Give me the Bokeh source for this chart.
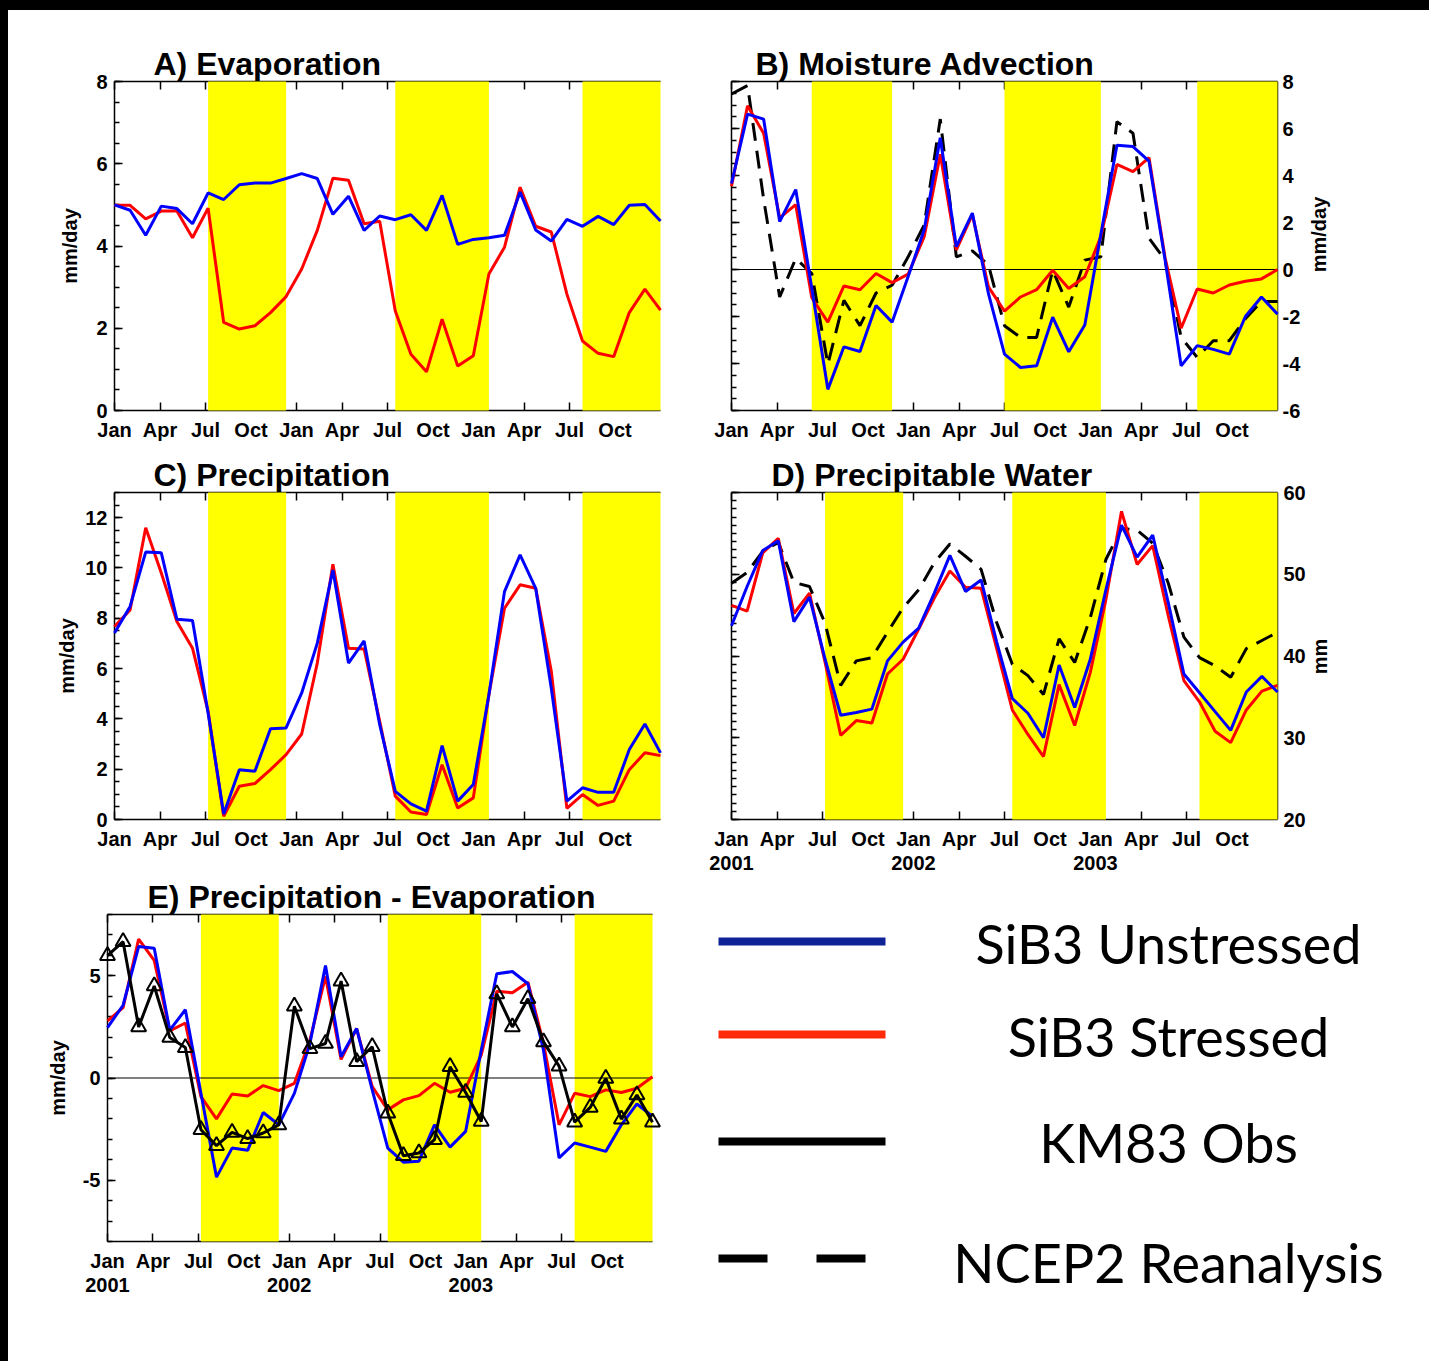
import math
from bokeh.plotting import figure
from bokeh.layouts import row, column
from bokeh.models import (Range1d, LinearAxis, FixedTicker, SingleIntervalTicker,
                          CustomJSTickFormatter, Spacer)
from bokeh.core.properties import value
from bokeh.embed import file_html
from bokeh.resources import INLINE

# ---------------- data ----------------
months = list(range(36))        # Jan 2001 .. Dec 2003
months_adv = list(range(35))    # panel B samples

evap_unstressed = [5.0, 4.87, 4.26, 4.97, 4.91, 4.54, 5.29, 5.13, 5.49, 5.53, 5.53, 5.64,
                   5.76, 5.64, 4.77, 5.21, 4.38, 4.73, 4.64, 4.76, 4.38, 5.23, 4.04, 4.16,
                   4.2, 4.26, 5.31, 4.39, 4.12, 4.65, 4.48, 4.72, 4.52, 4.99, 5.01, 4.61]
evap_stressed = [4.99, 4.99, 4.66, 4.85, 4.85, 4.2, 4.92, 2.14, 1.98, 2.06, 2.38, 2.77,
                 3.44, 4.38, 5.65, 5.6, 4.54, 4.6, 2.42, 1.37, 0.94, 2.22, 1.08, 1.33,
                 3.32, 3.97, 5.43, 4.48, 4.34, 2.83, 1.69, 1.39, 1.31, 2.38, 2.95, 2.44]

adv_unstressed = [3.66, 6.61, 6.4, 2.04, 3.4, -0.8, -5.1, -3.29, -3.49, -1.53, -2.24, -0.3,
                  1.69, 5.61, 0.97, 2.4, -1.03, -3.6, -4.17, -4.1, -2.03, -3.5, -2.36, 1.5,
                  5.29, 5.23, 4.61, 0.4, -4.1, -3.24, -3.4, -3.6, -2.0, -1.17, -1.9]
adv_stressed = [3.54, 6.97, 5.8, 2.2, 2.76, -1.2, -2.24, -0.7, -0.86, -0.17, -0.56, -0.2,
                1.4, 4.9, 0.83, 2.33, -0.74, -1.77, -1.17, -0.86, -0.03, -0.81, -0.31, 1.4,
                4.47, 4.16, 4.76, 0.5, -2.5, -0.83, -1.0, -0.66, -0.5, -0.4, 0.0]
adv_ncep2 = [7.47, 7.83, 3.0, -1.17, 0.47, -0.17, -4.03, -1.31, -2.39, -1.0, -0.67, 0.54,
             1.9, 6.4, 0.54, 0.79, 0.19, -2.39, -2.89, -2.89, -0.03, -1.6, 0.4, 0.54,
             6.29, 5.8, 1.33, 0.4, -2.89, -3.74, -3.03, -3.03, -2.1, -1.36, -1.36]

precip_unstressed = [7.41, 8.47, 10.63, 10.6, 7.96, 7.91, 4.23, 0.22, 1.98, 1.92, 3.61, 3.64,
                     5.03, 7.01, 9.92, 6.22, 7.1, 3.77, 1.12, 0.62, 0.33, 2.94, 0.73, 1.39,
                     4.96, 9.06, 10.52, 9.19, 5.22, 0.73, 1.26, 1.08, 1.08, 2.78, 3.8, 2.65]
precip_stressed = [7.67, 8.33, 11.6, 9.8, 7.87, 6.81, 4.3, 0.13, 1.32, 1.43, 1.98, 2.58,
                   3.4, 6.22, 10.15, 6.81, 6.78, 3.9, 0.93, 0.3, 0.2, 2.18, 0.46, 0.86,
                   4.96, 8.4, 9.33, 9.19, 5.89, 0.44, 0.99, 0.56, 0.73, 1.98, 2.65, 2.54]

pw_unstressed = [43.7, 48.5, 52.9, 54.1, 44.2, 47.2, 39.6, 32.75, 33.1, 33.5, 39.4, 41.7,
                 43.4, 47.7, 52.3, 47.9, 49.3, 41.7, 34.8, 33.0, 30.0, 38.9, 33.7, 39.6,
                 48.1, 56.0, 52.1, 54.8, 46.5, 37.8, 35.5, 33.2, 30.9, 35.6, 37.5, 35.6]
pw_stressed = [46.2, 45.5, 52.6, 54.4, 45.2, 47.7, 39.2, 30.3, 32.1, 31.8, 37.8, 39.6,
               43.3, 47.1, 50.4, 48.4, 48.3, 40.9, 33.4, 30.4, 27.7, 36.5, 31.5, 38.0,
               46.9, 57.7, 51.2, 53.5, 44.9, 37.0, 34.4, 30.8, 29.4, 33.4, 35.7, 36.4]
pw_ncep2 = [48.9, 50.2, 52.8, 53.9, 49.0, 48.5, 44.0, 36.4, 39.4, 39.8, 42.9, 45.9,
            48.1, 51.4, 53.7, 52.2, 50.6, 44.1, 39.0, 37.6, 35.3, 42.1, 39.2, 44.7,
            51.8, 55.6, 55.4, 53.8, 48.9, 42.3, 39.8, 38.8, 37.4, 40.9, 41.9, 42.9]

pme_unstressed = [2.47, 3.56, 6.43, 6.35, 2.34, 3.34, -0.75, -4.85, -3.43, -3.54, -1.69, -2.29,
                  -0.75, 1.69, 5.5, 1.04, 2.42, -0.58, -3.43, -4.12, -4.07, -2.29, -3.38, -2.61,
                  1.36, 5.1, 5.21, 4.61, 1.36, -3.91, -3.18, -3.38, -3.59, -2.29, -1.27, -1.88]
pme_stressed = [2.79, 3.44, 6.8, 5.75, 2.31, 2.69, -0.91, -2.0, -0.78, -0.88, -0.37, -0.62,
                -0.26, 1.85, 4.97, 0.91, 2.42, -0.42, -1.56, -1.07, -0.86, -0.26, -0.7, -0.5,
                1.12, 4.24, 4.17, 4.69, 1.69, -2.29, -0.75, -0.91, -0.58, -0.71, -0.5, 0.06]
pme_km83 = [5.99, 6.67, 2.5, 4.5, 1.98, 1.49, -2.53, -3.31, -2.66, -2.97, -2.69, -2.29,
            3.51, 1.44, 1.69, 4.74, 0.8, 1.53, -1.72, -3.8, -3.67, -3.02, 0.55, -0.71,
            -2.13, 4.12, 2.5, 3.88, 1.77, 0.58, -2.16, -1.44, -0.02, -2.01, -0.83, -2.16]

dry_start = [6, 18, 30]
dry_end = [11, 24, 35]
dry_start_adv = [5, 17, 29]
dry_end_adv = [10, 23, 34]

tick_labels = ["Jan", "Apr", "Jul", "Oct"] * 3
tick_labels_year = ["Jan\n2001", "Apr", "Jul", "Oct", "Jan\n2002", "Apr", "Jul", "Oct",
                    "Jan\n2003", "Apr", "Jul", "Oct"]

legend_labels = ["SiB3 Unstressed", "SiB3 Stressed", "KM83 Obs", "NCEP2 Reanalysis"]
legend_colors = ["#0f2396", "#ff2a0a", "black", "black"]
legend_dashes = ["solid", "solid", "solid", "49 49"]

# ---------------- styles ----------------
BLUE = "#0000ff"
RED = "#ff0000"
YELLOW = "#ffff00"
FONT = "Liberation Sans"


def blank_formatter():
    return CustomJSTickFormatter(code="return '';")


def int_formatter():
    return CustomJSTickFormatter(code="return tick.toFixed(0);")


def style_axis(ax):
    ax.axis_line_color = "black"
    ax.axis_line_width = 1.5
    ax.major_tick_line_color = "black"
    ax.major_tick_line_width = 1.5
    ax.minor_tick_line_color = "black"
    ax.minor_tick_line_width = 1.5
    ax.major_tick_in = 8
    ax.major_tick_out = 0
    ax.minor_tick_in = 5
    ax.minor_tick_out = 0
    ax.major_label_text_font = FONT
    ax.major_label_text_font_style = "bold"
    ax.major_label_text_font_size = "20px"
    ax.major_label_text_color = "black"
    ax.axis_label_text_font = FONT
    ax.axis_label_text_font_style = "bold"
    ax.axis_label_text_font_size = "20px"
    ax.axis_label_text_color = "black"


def panel(title, title_offset, width, height, bl, br, bt, bb, xmax, ylo, yhi):
    p = figure(width=width, height=height, x_range=Range1d(0, xmax), y_range=Range1d(ylo, yhi),
               output_backend="svg", toolbar_location=None,
               x_axis_location=None, y_axis_location=None,
               min_border_left=bl, min_border_right=br, min_border_top=bt, min_border_bottom=bb,
               title=title)
    p.outline_line_color = None
    p.grid.visible = False
    p.title.align = "left"
    p.title.offset = title_offset
    p.title.standoff = 0
    p.title.text_font = FONT
    p.title.text_font_style = "bold"
    p.title.text_font_size = "32px"
    p.title.text_color = "black"
    return p


def add_x_axes(p, xmax, labels):
    ticks = [k * xmax / 12 for k in range(12)]
    bottom = LinearAxis(ticker=FixedTicker(ticks=ticks, minor_ticks=[]),
                        formatter=CustomJSTickFormatter(args=dict(labels=labels),
                                                        code="return labels[index];"))
    style_axis(bottom)
    bottom.major_label_standoff = 8
    bottom.major_label_text_line_height = 1.1
    p.add_layout(bottom, "below")
    top = LinearAxis(ticker=FixedTicker(ticks=ticks, minor_ticks=[]), formatter=blank_formatter())
    style_axis(top)
    top.major_label_standoff = 0
    top.major_label_text_font_size = "0px"
    p.add_layout(top, "above")


def add_y_axes(p, interval, minor, side, label, label_standoff, tick_standoff):
    if side == "left":
        ax = LinearAxis(ticker=SingleIntervalTicker(interval=interval, num_minor_ticks=minor),
                        formatter=int_formatter(), axis_label=label)
        style_axis(ax)
        ax.major_label_standoff = tick_standoff
        ax.axis_label_standoff = label_standoff
        p.add_layout(ax, "left")
    else:
        left = LinearAxis(ticker=SingleIntervalTicker(interval=interval, num_minor_ticks=minor),
                          formatter=blank_formatter())
        style_axis(left)
        left.major_label_standoff = 0
        left.major_label_text_font_size = "0px"
        p.add_layout(left, "left")
        right = LinearAxis(ticker=SingleIntervalTicker(interval=interval, num_minor_ticks=minor),
                           formatter=int_formatter())
        style_axis(right)
        right.major_tick_in = 0
        right.minor_tick_in = 0
        right.major_label_standoff = tick_standoff
        p.add_layout(right, "right")


def side_title(width, height, text, tx, ty):
    """Narrow strip holding a right-hand axis title that reads bottom-to-top."""
    s = figure(width=width, height=height, x_range=Range1d(0, width), y_range=Range1d(height, 0),
               output_backend="svg", toolbar_location=None,
               x_axis_location=None, y_axis_location=None, min_border=0)
    if "frame_align" in s.properties():
        s.frame_align = False
    s.outline_line_color = None
    s.grid.visible = False
    s.text(x=[tx], y=[ty], text=[text], angle=math.pi / 2, text_font=value(FONT),
           text_font_style="bold", text_font_size="20px", text_align="center",
           text_baseline="middle", text_color="black")
    return s


def shade(p, starts, ends, ylo, yhi):
    p.quad(left=starts, right=ends, bottom=ylo, top=yhi, fill_color=YELLOW,
           line_color=None, level="overlay")


def zero_line(p, xmax):
    p.segment(x0=[0], y0=[0], x1=[xmax], y1=[0], line_color="black", line_width=1,
              level="overlay")


def series(p, x, y, color, dash="solid"):
    p.line(x, y, line_color=color, line_width=3, line_dash=dash, level="overlay")


# ---------------- A) Evaporation ----------------
pA = panel("A) Evaporation", 39, 692, 437, 106, 40, 71, 37, 35, 0, 8)
add_x_axes(pA, 35, tick_labels)
add_y_axes(pA, 2, 4, "left", "mm/day", 12, 7)
shade(pA, dry_start, dry_end, 0, 8)
series(pA, months, evap_stressed, RED)
series(pA, months, evap_unstressed, BLUE)

# ---------------- B) Moisture Advection ----------------
pB = panel("B) Moisture Advection", 24, 609, 437, 31, 32, 71, 37, 34, -6, 8)
add_x_axes(pB, 34, tick_labels)
add_y_axes(pB, 2, 4, "right", None, 0, 5)
shade(pB, dry_start_adv, dry_end_adv, -6, 8)
zero_line(pB, 34)
series(pB, months_adv, adv_ncep2, "black", "18 10")
series(pB, months_adv, adv_stressed, RED)
series(pB, months_adv, adv_unstressed, BLUE)
tB = side_title(120, 437, "mm/day", 9, 224)

# ---------------- C) Precipitation ----------------
pC = panel("C) Precipitation", 39, 692, 429, 106, 40, 45, 55, 35, 0, 13)
add_x_axes(pC, 35, tick_labels)
add_y_axes(pC, 2, 4, "left", "mm/day", 4, 7)
shade(pC, dry_start, dry_end, 0, 13)
series(pC, months, precip_stressed, RED)
series(pC, months, precip_unstressed, BLUE)

# ---------------- D) Precipitable Water ----------------
pD = panel("D) Precipitable Water", 40, 609, 429, 31, 32, 45, 55, 35, 20, 60)
add_x_axes(pD, 35, tick_labels_year)
add_y_axes(pD, 10, 10, "right", None, 0, 6)
shade(pD, dry_start, dry_end, 20, 60)
series(pD, months, pw_ncep2, "black", "18 10")
series(pD, months, pw_stressed, RED)
series(pD, months, pw_unstressed, BLUE)
tD = side_title(120, 429, "mm", 10, 209)

# ---------------- E) Precipitation - Evaporation ----------------
pE = panel("E) Precipitation - Evaporation", 40, 692, 485, 99, 48, 36, 120, 35, -8, 8)
add_x_axes(pE, 35, tick_labels_year)
add_y_axes(pE, 5, 5, "left", "mm/day", 11, 7)
shade(pE, dry_start, dry_end, -8, 8)
zero_line(pE, 35)
series(pE, months, pme_stressed, RED)
series(pE, months, pme_unstressed, BLUE)
series(pE, months, pme_km83, "black")
pE.scatter(months, pme_km83, marker="triangle", size=15, fill_color=None,
           line_color="black", line_width=2, level="overlay")

# ---------------- legend ----------------
LEG_W, LEG_H = 729, 485
leg = figure(width=LEG_W, height=LEG_H, x_range=Range1d(0, LEG_W), y_range=Range1d(LEG_H, 0),
             output_backend="svg", toolbar_location=None,
             x_axis_location=None, y_axis_location=None, min_border=0)
if "frame_align" in leg.properties():
    leg.frame_align = False
leg.outline_line_color = None
leg.grid.visible = False
line_y = [65, 158, 265, 382]
text_y = [67, 160, 266, 386]
for i in range(4):
    x1 = 185 if legend_dashes[i] == "solid" else 165
    leg.segment(x0=[18], y0=[line_y[i]], x1=[x1], y1=[line_y[i]],
                line_color=legend_colors[i], line_width=8, line_dash=legend_dashes[i],
                line_cap="butt")
leg.text(x=[468] * 4, y=text_y, text=legend_labels, text_font=value("Lato"),
         text_font_size="54px", text_align="center", text_baseline="middle",
         text_color="black")

# ---------------- page ----------------
top_strip = Spacer(width=1429, height=10, styles={"background-color": "black"})
left_strip = Spacer(width=8, height=1351, styles={"background-color": "black"})
content = column(row(pA, pB, tB), row(pC, pD, tD), row(pE, leg))
layout = column(top_strip, row(left_strip, content))

open("out.html", "w").write(file_html(layout, INLINE, title="Evaporation and moisture budget"))
